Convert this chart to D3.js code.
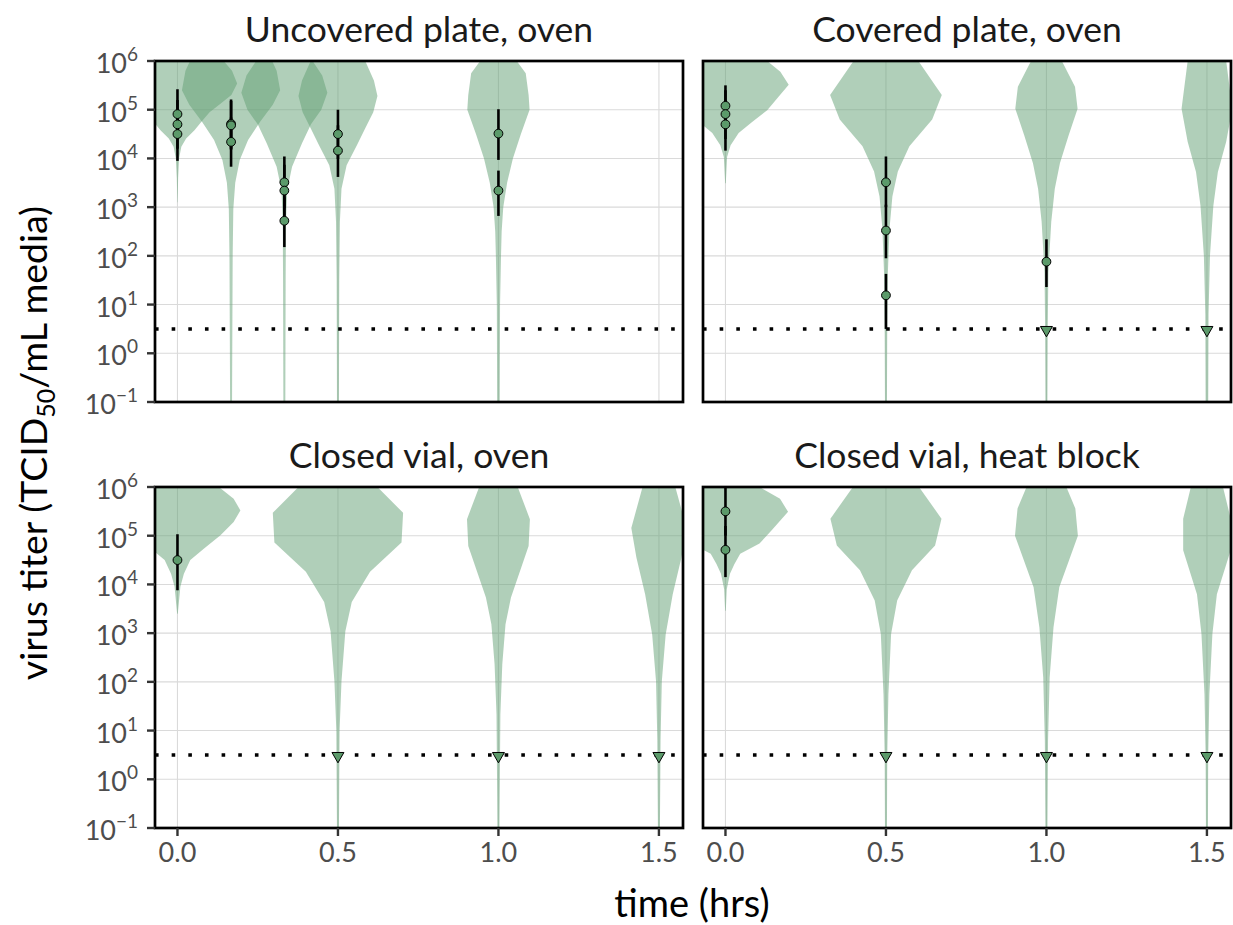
<!DOCTYPE html>
<html><head><meta charset="utf-8">
<script src="https://cdn.jsdelivr.net/npm/d3@7"></script>
<style>body{margin:0;background:#fff} text{font-family:Lato,"DejaVu Sans",sans-serif}</style>
</head><body><svg id="chart" width="1233" height="925"></svg>
<script>
// ---------------- data ----------------
const panelTitles = ["Uncovered plate, oven", "Covered plate, oven", "Closed vial, oven", "Closed vial, heat block"];
const timeTicks = [0, 0.5, 1.0, 1.5];
const timeTickLabels = ["0.0", "0.5", "1.0", "1.5"];
const logTicks = [-1, 0, 1, 2, 3, 4, 5, 6];
const detectionLog10 = 0.5;
// titers: [panel, time (hrs), log10 titer, log10 lower, log10 upper]
const titerPoints = [
  [0, 0, 4.91, 4.40, 5.42], [0, 0, 4.70, 4.20, 5.20], [0, 0, 4.50, 3.95, 5.00],
  [0, 0.167, 4.71, 4.20, 5.21], [0, 0.167, 4.68, 4.18, 5.18], [0, 0.167, 4.34, 3.83, 4.84],
  [0, 0.333, 3.51, 2.98, 4.04], [0, 0.333, 3.34, 2.82, 3.87], [0, 0.333, 2.72, 2.18, 3.20],
  [0, 0.5, 4.50, 3.99, 5.00], [0, 0.5, 4.16, 3.62, 4.68],
  [0, 1.0, 4.51, 3.97, 5.01], [0, 1.0, 3.34, 2.82, 3.75],
  [1, 0, 5.08, 4.60, 5.50], [1, 0, 4.91, 4.40, 5.40], [1, 0, 4.70, 4.16, 5.20],
  [1, 0.5, 3.51, 3.00, 4.04], [1, 0.5, 2.52, 1.95, 3.05], [1, 0.5, 1.19, 0.50, 1.63],
  [1, 1.0, 1.88, 1.36, 2.34],
  [2, 0, 4.50, 3.88, 5.03],
  [3, 0, 5.50, 5.00, 6.00], [3, 0, 4.71, 4.15, 5.20]
];
// below detection limit: [panel, time (hrs)]
const undetected = [[1, 1.0], [1, 1.5], [2, 0.5], [2, 1.0], [2, 1.5], [3, 0.5], [3, 1.0], [3, 1.5]];
// violin outlines: [panel, time, [[log10 titer, half width (hrs)], ...]]
const violins = [
  [0, 0, [[6.1,0.13],[6.0,0.144],[5.8,0.17],[5.54,0.186],[5.3,0.168],[5.12,0.134],[4.95,0.1],[4.75,0.074],[4.58,0.053],[4.41,0.027],[4.24,0.012],[4.0,0.005],[3.6,0.002],[3.1,0.0005]]],
  [0, 0.167, [[6.1,0.12],[6.0,0.128],[5.8,0.142],[5.4,0.153],[5.1,0.13],[4.75,0.09],[4.38,0.053],[3.97,0.027],[3.5,0.013],[2.96,0.007],[2.0,0.005],[0.5,0.004],[-1.1,0.003]]],
  [0, 0.333, [[6.1,0.08],[6.0,0.088],[5.7,0.118],[5.35,0.134],[5.0,0.115],[4.7,0.083],[4.31,0.055],[3.83,0.024],[3.35,0.009],[2.7,0.005],[1.5,0.004],[-1.1,0.003]]],
  [0, 0.5, [[6.1,0.078],[6.0,0.085],[5.6,0.112],[5.28,0.123],[4.95,0.11],[4.62,0.085],[4.27,0.059],[3.86,0.027],[3.38,0.011],[2.7,0.006],[1.5,0.004],[-1.1,0.003]]],
  [0, 1.0, [[6.1,0.05],[6.0,0.057],[5.75,0.085],[5.3,0.094],[5.0,0.097],[4.5,0.07],[4.0,0.045],[3.5,0.027],[3.0,0.015],[2.5,0.01],[2.0,0.008],[1.0,0.005],[-1.1,0.004]]],
  [1, 0, [[6.1,0.12],[6.0,0.13],[5.78,0.171],[5.51,0.197],[5.27,0.166],[4.99,0.13],[4.75,0.083],[4.52,0.041],[4.27,0.016],[4.03,0.005],[3.49,0.001]]],
  [1, 0.5, [[6.1,0.09],[6.0,0.101],[5.3,0.174],[4.8,0.144],[4.25,0.073],[3.73,0.037],[3.22,0.02],[2.55,0.011],[1.66,0.006],[0.5,0.004],[-1.1,0.003]]],
  [1, 1.0, [[6.1,0.042],[6.0,0.048],[5.47,0.089],[5.02,0.097],[4.47,0.069],[3.9,0.042],[3.38,0.026],[2.7,0.015],[1.66,0.006],[0.5,0.004],[-1.1,0.003]]],
  [1, 1.5, [[6.1,0.055],[6.0,0.06],[5.02,0.079],[4.34,0.06],[3.72,0.034],[3.03,0.02],[2.0,0.0095],[0.8,0.005],[-1.1,0.004]]],
  [2, 0, [[6.1,0.12],[6.0,0.129],[5.76,0.175],[5.52,0.196],[5.28,0.175],[5.01,0.134],[4.73,0.082],[4.5,0.04],[4.22,0.02],[3.95,0.009],[3.4,0.001]]],
  [2, 0.5, [[6.1,0.115],[6.0,0.123],[5.47,0.203],[4.86,0.198],[4.26,0.1],[3.64,0.043],[3.04,0.023],[2.01,0.011],[0.99,0.005],[-1.1,0.003]]],
  [2, 1.0, [[6.1,0.054],[6.0,0.06],[5.34,0.098],[4.79,0.094],[3.73,0.039],[3.18,0.022],[2.36,0.012],[1.33,0.006],[-1.1,0.003]]],
  [2, 1.5, [[6.1,0.045],[6.0,0.051],[5.16,0.086],[4.55,0.07],[3.8,0.043],[2.97,0.021],[2.01,0.009],[0.8,0.005],[-1.1,0.003]]],
  [3, 0, [[6.1,0.1],[6.0,0.106],[5.76,0.17],[5.49,0.195],[5.11,0.144],[4.84,0.106],[4.63,0.046],[4.42,0.028],[4.22,0.014],[3.9,0.004],[3.46,0.001]]],
  [3, 0.5, [[6.1,0.095],[6.0,0.103],[5.35,0.173],[4.8,0.153],[4.29,0.081],[3.67,0.035],[2.98,0.016],[1.74,0.0076],[0.5,0.004],[-1.1,0.003]]],
  [3, 1.0, [[6.1,0.055],[6.0,0.062],[5.56,0.09],[5.0,0.098],[3.94,0.04],[3.12,0.022],[2.09,0.01],[0.8,0.005],[-1.1,0.003]]],
  [3, 1.5, [[6.1,0.045],[6.0,0.05],[5.35,0.074],[4.7,0.074],[3.8,0.031],[2.98,0.017],[1.74,0.0076],[0.5,0.004],[-1.1,0.003]]]
];

// ---------------- layout ----------------
const svg = d3.select("#chart");
const W = 528, H = 341;
const cols = [155, 703], rows = [61, 487];
const x = d3.scaleLinear().domain([-0.07, 1.575]).range([0, W]);
const y = d3.scaleLog().domain([0.1, 1e6]).range([H, 0]);
const Y = v => y(Math.pow(10, v));
const violinFill = "#62a073", pointFill = "#5b9a6a";
const defs = svg.append("defs");

panelTitles.forEach((title, i) => {
  const c = i % 2, r = Math.floor(i / 2);
  const g = svg.append("g").attr("transform", `translate(${cols[c]},${rows[r]})`);
  defs.append("clipPath").attr("id", "clip" + i).append("rect").attr("width", W).attr("height", H);

  // grid
  g.selectAll(".gy").data(logTicks).join("line")
    .attr("x1", 0).attr("x2", W).attr("y1", d => Y(d)).attr("y2", d => Y(d))
    .attr("stroke", "#dadada").attr("stroke-width", 1.1);
  g.selectAll(".gx").data(timeTicks).join("line")
    .attr("y1", 0).attr("y2", H).attr("x1", d => x(d)).attr("x2", d => x(d))
    .attr("stroke", "#dadada").attr("stroke-width", 1.1);

  const inner = g.append("g").attr("clip-path", `url(#clip${i})`);
  // violins
  violins.filter(v => v[0] === i).forEach(v => {
    const t = v[1];
    const area = d3.area().curve(d3.curveLinear)
      .y(d => Y(d[0])).x0(d => x(t - d[1])).x1(d => x(t + d[1]));
    inner.append("path").attr("d", area(v[2]))
      .attr("fill", violinFill).attr("fill-opacity", 0.5);
  });
  // detection limit
  inner.append("line").attr("x1", 0).attr("x2", W)
    .attr("y1", Y(detectionLog10)).attr("y2", Y(detectionLog10))
    .attr("stroke", "#000").attr("stroke-width", 3.6).attr("stroke-dasharray", "3.6 13.05");
  // error bars
  const pts = titerPoints.filter(p => p[0] === i);
  inner.selectAll(".eb").data(pts).join("line")
    .attr("x1", d => x(d[1])).attr("x2", d => x(d[1]))
    .attr("y1", d => Y(d[3])).attr("y2", d => Y(d[4]))
    .attr("stroke", "#000").attr("stroke-width", 2.6);
  inner.selectAll(".pt").data(pts).join("circle")
    .attr("cx", d => x(d[1])).attr("cy", d => Y(d[2])).attr("r", 4.4)
    .attr("fill", pointFill).attr("stroke", "#000").attr("stroke-width", 1);
  // undetected triangles
  const tri = d3.symbol().type(d3.symbolTriangle).size(62);
  inner.selectAll(".tri").data(undetected.filter(u => u[0] === i)).join("path")
    .attr("d", tri)
    .attr("transform", d => `translate(${x(d[1])},${Y(detectionLog10) + 1}) rotate(180)`)
    .attr("fill", pointFill).attr("stroke", "#000").attr("stroke-width", 1);

  // border
  g.append("rect").attr("width", W).attr("height", H)
    .attr("fill", "none").attr("stroke", "#000").attr("stroke-width", 2.7);

  // title
  g.append("text").attr("x", W / 2).attr("y", -19).attr("text-anchor", "middle")
    .attr("font-size", 35.5).attr("fill", "#1a1a1a").text(title);

  // y axis (left column)
  if (c === 0) {
    g.selectAll(".yt").data(logTicks).join("line")
      .attr("x1", -8).attr("x2", 0).attr("y1", d => Y(d)).attr("y2", d => Y(d))
      .attr("stroke", "#333").attr("stroke-width", 2.4);
    const lab = g.selectAll(".yl").data(logTicks).join("text")
      .attr("x", -17).attr("y", d => Y(d) + 12).attr("text-anchor", "end")
      .attr("fill", "#4d4d4d").attr("font-size", 27);
    lab.append("tspan").text("10");
    lab.append("tspan").attr("dy", -12).attr("font-size", 19)
      .text(d => d < 0 ? "\u2212" + Math.abs(d) : String(d));
  }
  // x axis (bottom row)
  if (r === 1) {
    g.selectAll(".xt").data(timeTicks).join("line")
      .attr("x1", d => x(d)).attr("x2", d => x(d)).attr("y1", H).attr("y2", H + 8)
      .attr("stroke", "#333").attr("stroke-width", 2.4);
    g.selectAll(".xl").data(timeTicks).join("text")
      .attr("x", d => x(d)).attr("y", H + 34).attr("text-anchor", "middle")
      .attr("fill", "#4d4d4d").attr("font-size", 27)
      .text((d, k) => timeTickLabels[k]);
  }
});

// axis titles
svg.append("text").attr("x", 692).attr("y", 917).attr("text-anchor", "middle")
  .attr("font-size", 38).attr("fill", "#000").text("time (hrs)");
const yl = svg.append("text").attr("transform", "translate(47,443) rotate(-90)")
  .attr("text-anchor", "middle").attr("font-size", 37.5).attr("fill", "#000");
yl.append("tspan").text("virus titer (TCID");
yl.append("tspan").attr("dy", 8).attr("font-size", 25).text("50");
yl.append("tspan").attr("dy", -8).text("/mL media)");
</script></body></html>
